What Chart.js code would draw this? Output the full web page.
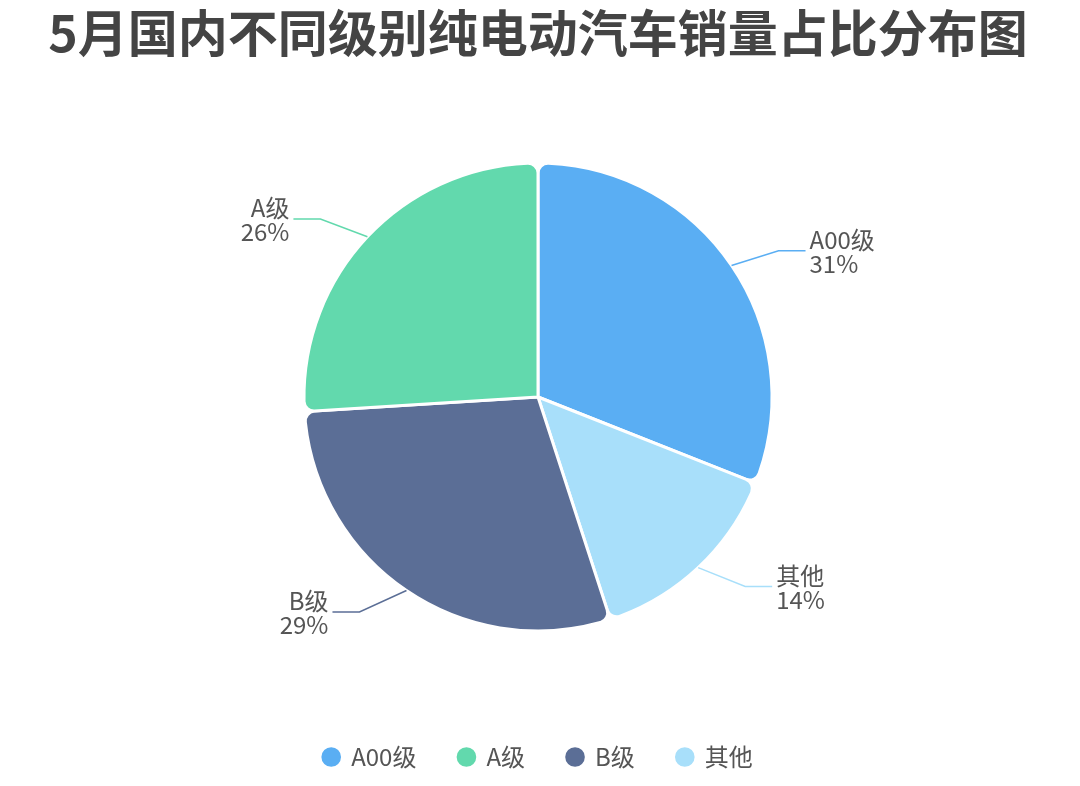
<!DOCTYPE html>
<html>
<head>
<meta charset="utf-8">
<script src="https://cdn.jsdelivr.net/npm/chart.js@4"></script>
<style>
  html, body { margin: 0; padding: 0; background: #fff; }
  #wrap { width: 1080px; height: 786px; }
</style>
</head>
<body>
<div id="wrap"><canvas id="pie-canvas"></canvas></div>
<script>
const categories = ['A00级', '其他', 'B级', 'A级']
const shares = [31, 14, 29, 26]
const colors = ['#5aaef3', '#a8dffa', '#5b6e96', '#62d9ad']
const legendOrder = ['A00级', 'A级', 'B级', '其他']

const FONT = '"Noto Sans CJK SC", "Noto Sans", sans-serif'

// outside labels with a two-part leader line
const outsideLabels = {
	id: 'outsideLabels',
	afterDatasetsDraw(chart) {
		const ctx = chart.ctx
		const meta = chart.getDatasetMeta(0)
		meta.data.forEach((arc, i) => {
			const p = arc.getProps(['x', 'y', 'startAngle', 'endAngle', 'outerRadius'], true)
			const mid = (p.startAngle + p.endAngle) / 2
			const cx = Math.cos(mid), cy = Math.sin(mid)
			const side = cx >= 0 ? 1 : -1
			const ex = p.x + cx * p.outerRadius
			const ey = p.y + cy * p.outerRadius
			const bx = ex + side * 47
			const by = ey + cy * 26
			const tx = bx + side * 27
			ctx.save()
			ctx.strokeStyle = colors[i]
			ctx.lineWidth = 1.5
			ctx.beginPath()
			ctx.moveTo(ex, ey)
			ctx.lineTo(bx, by)
			ctx.lineTo(tx, by)
			ctx.stroke()
			ctx.fillStyle = '#555'
			ctx.font = '24px ' + FONT
			ctx.textAlign = side > 0 ? 'left' : 'right'
			ctx.textBaseline = 'middle'
			ctx.fillText(categories[i], tx + side * 4, by - 11)
			ctx.fillText(shares[i] + '%', tx + side * 4, by + 13)
			ctx.restore()
		})
	}
}

const context = document.getElementById('pie-canvas').getContext('2d')

const myChart = new Chart(context, {
	type: 'pie',
	data: {
		labels: categories,
		datasets: [{
			data: shares,
			backgroundColor: colors,
			borderColor: '#ffffff',
			borderWidth: 3,
			borderRadius: 10,
			radius: 234
		}]
	},
	options: {
		responsive: true,
		maintainAspectRatio: false,
		animation: false,
		layout: { padding: { left: 0, right: 4, top: 0, bottom: 7 } },
		plugins: {
			title: {
				display: true,
				text: '5月国内不同级别纯电动汽车销量占比分布图',
				color: '#444',
				font: { family: FONT, size: 50, weight: 'bold' },
				padding: { top: 3, bottom: 28 }
			},
			legend: {
				position: 'bottom',
				labels: {
					usePointStyle: true,
					pointStyle: 'circle',
					boxWidth: 16,
					boxHeight: 16,
					padding: 42,
					color: '#555',
					font: { family: FONT, size: 24 },
					sort: (a, b) => legendOrder.indexOf(a.text) - legendOrder.indexOf(b.text)
				}
			},
			tooltip: { enabled: false }
		}
	},
	plugins: [outsideLabels]
})
</script>
</body>
</html>
